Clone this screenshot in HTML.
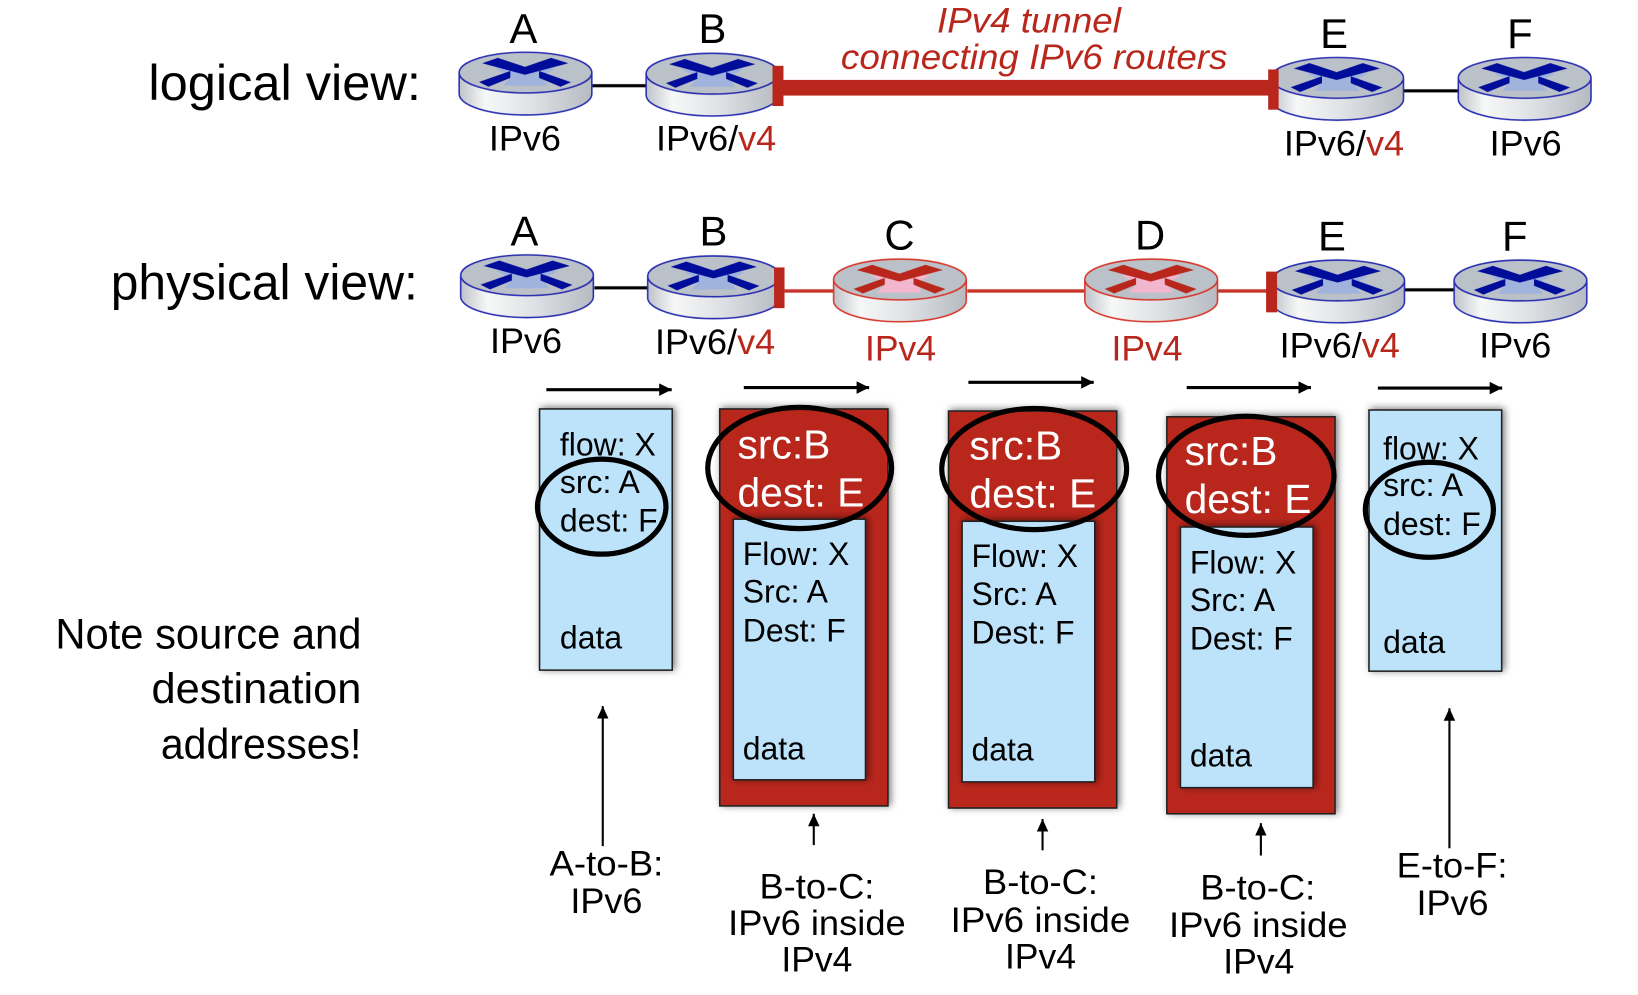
<!DOCTYPE html>
<html><head><meta charset="utf-8"><style>
html,body{margin:0;padding:0;background:#fff;width:1638px;height:995px;overflow:hidden}
svg{display:block}
text{font-family:"Liberation Sans",Arial,sans-serif;fill:#000}
.r{fill:#b9281c}
.L{font-size:40px}
.M{font-size:34px}
.P{font-size:30.6px}
.W{font-size:39px;fill:#fff}
.C{font-size:48px}
.N{font-size:41px}
</style></head><body>
<svg width="1638" height="995" viewBox="0 0 1568 952.5" xmlns="http://www.w3.org/2000/svg">
<defs>
<linearGradient id="side" x1="0" x2="1" y1="0" y2="0">
<stop offset="0" stop-color="#bfc4ca"/><stop offset=".2" stop-color="#f7f8f8"/><stop offset=".55" stop-color="#dfe2e5"/><stop offset="1" stop-color="#b5bbc2"/>
</linearGradient>
<filter id="sh" x="-10%" y="-10%" width="125%" height="120%"><feDropShadow dx="2" dy="-1" stdDeviation="3.5" flood-color="#000" flood-opacity=".55"/></filter>
<filter id="b" x="-2%" y="-2%" width="104%" height="104%"><feGaussianBlur stdDeviation=".3"/></filter>
<g id="body">
<path d="M0 19.5 V40 A63.5 20 0 0 0 127 40 V19.5 Z" fill="url(#side)"/>
<ellipse cx="63.5" cy="19.5" rx="63.5" ry="19.5" fill="#bbc1c8"/>
</g>
<g id="rb">
<use href="#body"/>
<polygon points="34,15.5 93,15.5 78,23 85,32 42,32 50,23" fill="#9fb3dd"/>
<polygon points="22,10.5 37,5.4 63,14 88,5.4 104.5,10.5 63,21.5" fill="#00079b"/>
<polygon points="19,28.5 49,18 49,24.5 28,33" fill="#00079b"/>
<polygon points="76.5,18 107,28.7 97,33 76.5,24.5" fill="#00079b"/>
<path d="M0 19.5 V40 A63.5 20 0 0 0 127 40 V19.5 A63.5 19.5 0 0 0 0 19.5 A63.5 19.5 0 0 0 127 19.5" fill="none" stroke="#2a2fb0" stroke-width="1.5"/>
</g>
<g id="rr">
<use href="#body"/>
<polygon points="34,15.5 93,15.5 78,23 85,32 42,32 50,23" fill="#f2b6cf"/>
<polygon points="22,10.5 37,5.4 63,14 88,5.4 104.5,10.5 63,21.5" fill="#b9281c"/>
<polygon points="19,28.5 49,18 49,24.5 28,33" fill="#b9281c"/>
<polygon points="76.5,18 107,28.7 97,33 76.5,24.5" fill="#b9281c"/>
<path d="M0 19.5 V40 A63.5 20 0 0 0 127 40 V19.5 A63.5 19.5 0 0 0 0 19.5 A63.5 19.5 0 0 0 127 19.5" fill="none" stroke="#d8392e" stroke-width="1.5"/>
</g>
<marker id="ah" markerUnits="userSpaceOnUse" markerWidth="13" markerHeight="12" refX="12" refY="6" orient="auto"><path d="M0 0L12 6L0 12Z" fill="#000"/></marker>
<marker id="ahv" markerUnits="userSpaceOnUse" markerWidth="13" markerHeight="12" refX="12" refY="6" orient="auto"><path d="M0 0.5L12 6L0 11.5Z" fill="#000"/></marker>
</defs>
<g filter="url(#b)">
<!-- links -->
<g stroke="#000" stroke-width="3">
<path d="M567 82H618M1343 87H1396M569 275.500H620M1345 277.500H1392"/>
</g>
<g stroke="#c6342a" stroke-width="3.2"><path d="M751 278.500H798M926 278.500H1038M1166 278.500H1217"/></g>
<!-- routers -->
<use href="#rb" x="439.500" y="50"/><use href="#rb" x="618.500" y="51"/><use href="#rb" x="1216.500" y="55"/><use href="#rb" x="1396" y="55"/>
<use href="#rb" x="441" y="244"/><use href="#rb" x="620" y="245"/><use href="#rr" x="798" y="248"/><use href="#rr" x="1038.500" y="248"/><use href="#rb" x="1217.500" y="249"/><use href="#rb" x="1392" y="249"/>
<!-- tunnel -->
<g class="r">
<rect x="748" y="76.500" width="468" height="15"/><rect x="739.500" y="63" width="10.500" height="38.500"/><rect x="1214" y="66.500" width="10" height="38.500"/>
<rect x="741" y="256" width="10" height="39"/><rect x="1212" y="260" width="10.500" height="39"/>
</g>
<!-- arrows -->
<g stroke="#000" stroke-width="3" fill="none">
<path d="M523 373H643" marker-end="url(#ah)"/><path d="M712 371H832" marker-end="url(#ah)"/><path d="M927 366H1047" marker-end="url(#ah)"/><path d="M1136 371H1255" marker-end="url(#ah)"/><path d="M1319 371.500H1438" marker-end="url(#ah)"/>
</g>
<g stroke="#000" stroke-width="2" fill="none">
<path d="M577 810V676" marker-end="url(#ahv)"/><path d="M779 809V779" marker-end="url(#ahv)"/><path d="M998 814V784" marker-end="url(#ahv)"/><path d="M1207 819V788" marker-end="url(#ahv)"/><path d="M1387.500 812V678" marker-end="url(#ahv)"/>
</g>
<!-- packets -->
<g stroke="#222" stroke-width="1.5">
<rect x="516.500" y="391.500" width="127" height="250" fill="#bde3fb" filter="url(#sh)"/>
<rect x="689" y="391.500" width="161" height="380" fill="#b9281c" filter="url(#sh)"/>
<rect x="702" y="497" width="126.500" height="249.500" fill="#bde3fb" filter="url(#sh)"/>
<rect x="908" y="393.500" width="161" height="380" fill="#b9281c" filter="url(#sh)"/>
<rect x="921" y="499" width="127" height="249.500" fill="#bde3fb" filter="url(#sh)"/>
<rect x="1117" y="399" width="161" height="380" fill="#b9281c" filter="url(#sh)"/>
<rect x="1130" y="504.500" width="127" height="249.500" fill="#bde3fb" filter="url(#sh)"/>
<rect x="1310.500" y="392.500" width="127" height="250" fill="#bde3fb" filter="url(#sh)"/>
</g>
<!-- labels -->
<g text-anchor="middle" class="L">
<text x="501" y="41" class="L">A</text><text x="682" y="41" class="L">B</text><text x="1277" y="46" class="L">E</text><text x="1455" y="46" class="L">F</text>
<text x="502" y="235" class="L">A</text><text x="683" y="235" class="L">B</text><text x="861" y="239" class="L">C</text><text x="1101" y="239" class="L">D</text><text x="1275" y="240" class="L">E</text><text x="1450" y="240" class="L">F</text>
</g>
<text x="897" y="31" class="M r" style="fill:#b9281c;font-style:italic" textLength="176" lengthAdjust="spacingAndGlyphs">IPv4 tunnel</text>
<text x="805" y="66" class="M" style="fill:#b9281c;font-style:italic" textLength="370" lengthAdjust="spacingAndGlyphs">connecting IPv6 routers</text>
<text x="468" y="144" class="M" textLength="69" lengthAdjust="spacingAndGlyphs">IPv6</text>
<text x="628" y="144" class="M" textLength="115" lengthAdjust="spacingAndGlyphs">IPv6/<tspan style="fill:#b9281c">v4</tspan></text>
<text x="1229" y="149" class="M" textLength="115" lengthAdjust="spacingAndGlyphs">IPv6/<tspan style="fill:#b9281c">v4</tspan></text>
<text x="1426" y="149" class="M" textLength="69" lengthAdjust="spacingAndGlyphs">IPv6</text>
<text x="469" y="338" class="M" textLength="69" lengthAdjust="spacingAndGlyphs">IPv6</text>
<text x="627" y="339" class="M" textLength="115" lengthAdjust="spacingAndGlyphs">IPv6/<tspan style="fill:#b9281c">v4</tspan></text>
<text x="828" y="345" class="M" style="fill:#b9281c" textLength="68" lengthAdjust="spacingAndGlyphs">IPv4</text>
<text x="1064" y="345" class="M" style="fill:#b9281c" textLength="68" lengthAdjust="spacingAndGlyphs">IPv4</text>
<text x="1225" y="342" class="M" textLength="115" lengthAdjust="spacingAndGlyphs">IPv6/<tspan style="fill:#b9281c">v4</tspan></text>
<text x="1416" y="342" class="M" textLength="69" lengthAdjust="spacingAndGlyphs">IPv6</text>
<text x="142" y="95.500" class="C" textLength="261" lengthAdjust="spacingAndGlyphs">logical view:</text>
<text x="106" y="286.500" class="C" textLength="294" lengthAdjust="spacingAndGlyphs">physical view:</text>
<g transform="translate(0,1)">
<text x="53" y="620" class="N" textLength="293" lengthAdjust="spacingAndGlyphs">Note source and</text>
<text x="145" y="672" class="N" textLength="201" lengthAdjust="spacingAndGlyphs">destination</text>
<text x="154" y="725" class="N" textLength="192" lengthAdjust="spacingAndGlyphs">addresses!</text>
<!-- packet text -->
<text x="536" y="435" class="P">flow: X</text><text x="536" y="471" class="P">src: A</text><text x="536" y="508" class="P">dest: F</text><text x="536" y="620" class="P">data</text>
<text x="706" y="438" class="W">src:B</text><text x="706" y="484" class="W">dest: E</text>
<text x="711" y="540" class="P">Flow: X</text><text x="711" y="576" class="P">Src: A</text><text x="711" y="613" class="P">Dest: F</text><text x="711" y="726" class="P">data</text>
<text x="928" y="439" class="W">src:B</text><text x="928" y="485" class="W">dest: E</text>
<text x="930" y="542" class="P">Flow: X</text><text x="930" y="578" class="P">Src: A</text><text x="930" y="615" class="P">Dest: F</text><text x="930" y="727" class="P">data</text>
<text x="1134" y="444" class="W">src:B</text><text x="1134" y="490" class="W">dest: E</text>
<text x="1139" y="548" class="P">Flow: X</text><text x="1139" y="584" class="P">Src: A</text><text x="1139" y="621" class="P">Dest: F</text><text x="1139" y="733" class="P">data</text>
<text x="1324" y="439" class="P">flow: X</text><text x="1324" y="474" class="P">src: A</text><text x="1324" y="511" class="P">dest: F</text><text x="1324" y="624" class="P">data</text>
<!-- bottom labels -->
<text x="526" y="837" class="M" textLength="109" lengthAdjust="spacingAndGlyphs">A-to-B:</text><text x="546" y="873" class="M" textLength="69" lengthAdjust="spacingAndGlyphs">IPv6</text>
<text x="727" y="859" class="M" textLength="110" lengthAdjust="spacingAndGlyphs">B-to-C:</text><text x="697" y="894" class="M" textLength="170" lengthAdjust="spacingAndGlyphs">IPv6 inside</text><text x="748" y="929" class="M" textLength="68" lengthAdjust="spacingAndGlyphs">IPv4</text>
<text x="941" y="855" class="M" textLength="110" lengthAdjust="spacingAndGlyphs">B-to-C:</text><text x="910" y="891" class="M" textLength="172" lengthAdjust="spacingAndGlyphs">IPv6 inside</text><text x="962" y="926" class="M" textLength="68" lengthAdjust="spacingAndGlyphs">IPv4</text>
<text x="1149" y="860" class="M" textLength="110" lengthAdjust="spacingAndGlyphs">B-to-C:</text><text x="1119" y="896" class="M" textLength="171" lengthAdjust="spacingAndGlyphs">IPv6 inside</text><text x="1171" y="931" class="M" textLength="68" lengthAdjust="spacingAndGlyphs">IPv4</text>
<text x="1337" y="839" class="M" textLength="106" lengthAdjust="spacingAndGlyphs">E-to-F:</text><text x="1356" y="875" class="M" textLength="69" lengthAdjust="spacingAndGlyphs">IPv6</text>
</g>
<!-- ellipses -->
<g fill="none" stroke="#000" stroke-width="5">
<ellipse cx="576" cy="485" rx="61.500" ry="45.500"/>
<ellipse cx="765.500" cy="448" rx="88" ry="58"/>
<ellipse cx="990" cy="449" rx="88.500" ry="58"/>
<ellipse cx="1193" cy="455.500" rx="84" ry="57"/>
<ellipse cx="1368.300" cy="488" rx="61.300" ry="45.500"/>
</g>
</g>
</svg>
</body></html>
